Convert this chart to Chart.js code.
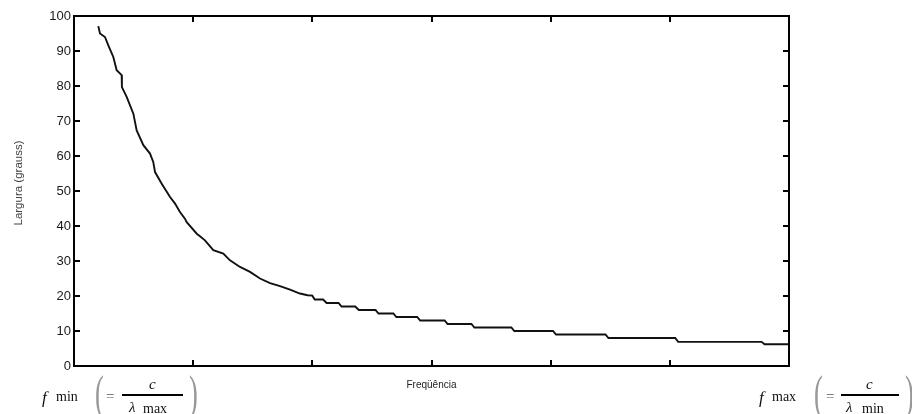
<!DOCTYPE html>
<html>
<head>
<meta charset="utf-8">
<script src="https://cdn.jsdelivr.net/npm/chart.js@4"></script>
<style>
  body { margin: 0; background: #fff; }
  #wrap { position: relative; width: 912px; height: 414px; overflow: hidden; }
  .m { position: absolute; font-family: "Liberation Serif", "DejaVu Serif", serif; color: #111; line-height: 1; white-space: nowrap; }
  .i { font-style: italic; }
  .par { color: #999; font-size: 48px; font-weight: normal; transform: scaleX(0.55); transform-origin: left top; }
  .bar { position: absolute; height: 2px; background: #000; }
  #ytitle { position: absolute; left: 18px; top: 183px; font: 11.5px "Liberation Sans", Arial, sans-serif; color: #444;
            white-space: nowrap; transform: translate(-50%, -50%) rotate(-90deg); }
</style>
</head>
<body>
<div id="wrap">
  <canvas id="chart"></canvas>
  <div id="ytitle">Largura (grauss)</div>

  <!-- left end of the frequency axis -->
  <span class="m i" style="left:42px;top:389px;font-size:17px">f</span>
  <span class="m" style="left:56px;top:390px;font-size:14px">min</span>
  <span class="m par" style="left:95px;top:369px">(</span>
  <span class="m" style="left:106px;top:389px;font-size:15px;color:#555">=</span>
  <div class="bar" style="left:122px;top:394px;width:61px"></div>
  <span class="m i" style="left:149px;top:377px;font-size:15px">c</span>
  <span class="m i" style="left:129px;top:400px;font-size:15px">λ</span>
  <span class="m" style="left:143px;top:402px;font-size:14px">max</span>
  <span class="m par" style="left:189px;top:369px">)</span>

  <!-- right end of the frequency axis -->
  <span class="m i" style="left:759px;top:389px;font-size:17px">f</span>
  <span class="m" style="left:772px;top:390px;font-size:14px">max</span>
  <span class="m par" style="left:814px;top:369px">(</span>
  <span class="m" style="left:826px;top:389px;font-size:15px;color:#555">=</span>
  <div class="bar" style="left:841px;top:394px;width:58px"></div>
  <span class="m i" style="left:866px;top:377px;font-size:15px">c</span>
  <span class="m i" style="left:846px;top:400px;font-size:15px">λ</span>
  <span class="m" style="left:862px;top:402px;font-size:14px">min</span>
  <span class="m par" style="left:905px;top:369px">)</span>
</div>

<script>
// Data (x in axis units, 6 tick intervals from fmin to fmax)
var freq = [
    0.204, 0.218, 0.260, 0.288, 0.330, 0.358, 0.400, 0.402, 0.442, 0.498,
    0.526, 0.582, 0.638, 0.665, 0.680, 0.736, 0.806, 0.848, 0.889, 0.931,
    0.946, 1.030, 1.057, 1.099, 1.169, 1.253, 1.309, 1.393, 1.477, 1.561,
    1.645, 1.729, 1.813, 1.896, 1.960, 2.000,
    2.020, 2.090, 2.120, 2.220, 2.245, 2.360, 2.390, 2.530, 2.555, 2.680,
    2.705, 2.880, 2.905, 3.110, 3.135, 3.335, 3.360, 3.670, 3.695, 4.020,
    4.045, 4.460, 4.485, 5.045, 5.070, 5.770, 5.795, 6.000
];
var largura = [
    97.1, 95.0, 94.0, 91.6, 88.3, 84.5, 83.1, 79.7, 76.9, 72.1,
    67.3, 63.1, 60.7, 58.3, 55.4, 52.1, 48.3, 46.4, 44.0, 42.1,
    41.1, 37.8, 37.1, 35.9, 33.1, 32.1, 30.2, 28.3, 26.9, 25.0,
    23.7, 22.8, 21.8, 20.7, 20.2, 20.1,
    19.0, 19.0, 18.0, 18.0, 17.0, 17.0, 16.0, 16.0, 15.0, 15.0,
    14.0, 14.0, 13.0, 13.0, 12.0, 12.0, 11.0, 11.0, 10.0, 10.0,
    9.0, 9.0, 8.0, 8.0, 6.9, 6.9, 6.2, 6.2
];
var yTicks = [0, 10, 20, 30, 40, 50, 60, 70, 80, 90, 100];
var xTicks = [0, 1, 2, 3, 4, 5, 6];

var points = freq.map(function(f, i) { return { x: f, y: largura[i] }; });

// box round the plot with inward ticks on all four sides
var axisBox = {
    id: 'axisBox',
    afterDraw: function(chart) {
        var ctx = chart.ctx, a = chart.chartArea;
        var x = chart.scales.x, y = chart.scales.y;
        ctx.save();
        ctx.strokeStyle = '#000';
        ctx.lineWidth = 2;
        ctx.strokeRect(a.left, a.top, a.right - a.left, a.bottom - a.top);
        ctx.beginPath();
        yTicks.forEach(function(v) {
            var py = Math.round(y.getPixelForValue(v));
            ctx.moveTo(a.left, py); ctx.lineTo(a.left + 6, py);
            ctx.moveTo(a.right, py); ctx.lineTo(a.right - 6, py);
        });
        xTicks.forEach(function(v) {
            var px = Math.round(x.getPixelForValue(v));
            ctx.moveTo(px, a.bottom); ctx.lineTo(px, a.bottom - 6);
            ctx.moveTo(px, a.top); ctx.lineTo(px, a.top + 6);
        });
        ctx.stroke();
        ctx.restore();
    }
};

document.addEventListener("DOMContentLoaded", function() {
    var ctx = document.getElementById('chart').getContext('2d');
    new Chart(ctx, {
        type: 'line',
        data: {
            datasets: [{
                data: points,
                borderColor: '#111',
                borderWidth: 1.9,
                pointRadius: 0,
                tension: 0,
                fill: false
            }]
        },
        options: {
            responsive: true,
            maintainAspectRatio: false,
            animation: false,
            layout: { padding: { left: 0, right: 123, top: 16, bottom: 0 } },
            plugins: { legend: { display: false }, tooltip: { enabled: false } },
            scales: {
                x: {
                    type: 'linear',
                    min: 0,
                    max: 6,
                    ticks: { display: false, stepSize: 1 },
                    grid: { display: false, drawTicks: false },
                    border: { display: false },
                    title: {
                        display: true,
                        text: 'Freqüência',
                        color: '#222',
                        font: { family: 'Liberation Sans', size: 10 },
                        padding: { top: 0, bottom: 23 }
                    },
                    afterFit: function(scale) { scale.height = 48; }
                },
                y: {
                    min: 0,
                    max: 100,
                    ticks: {
                        stepSize: 10,
                        padding: 3,
                        color: '#1a1a1a',
                        font: { family: 'Liberation Sans', size: 13 }
                    },
                    grid: { display: false, drawTicks: false },
                    border: { display: false },
                    afterFit: function(scale) { scale.width = 74; }
                }
            }
        },
        plugins: [axisBox]
    });
});
</script>
</body>
</html>
